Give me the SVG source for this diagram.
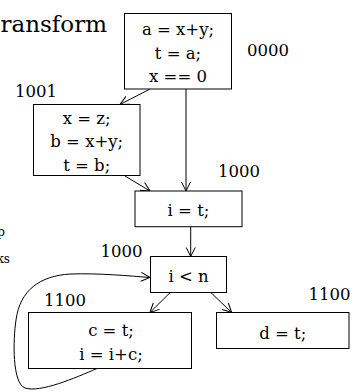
<svg xmlns="http://www.w3.org/2000/svg" width="356" height="392" viewBox="0 0 356 392">
<defs>
<marker id="ah" markerUnits="userSpaceOnUse" markerWidth="12" markerHeight="12" viewBox="-10 -6 12 12" refX="0" refY="0" orient="auto">
<path d="M-9,-4.5 L0,0 L-9,4.5" fill="none" stroke="#000" stroke-width="1"/>
</marker>
<style>
text{font-family:"DejaVu Serif",serif;font-size:16.5px;fill:#000}
.c{text-anchor:middle}
.box{fill:#fff;stroke:#000;stroke-width:1}
.edge{fill:none;stroke:#000;stroke-width:1;marker-end:url(#ah)}
.frag{font-size:12px;text-anchor:end}
</style>
</defs>
<rect width="356" height="392" fill="#fff"/>
<text x="0.5" y="32" style="font-size:23px">ransform</text>
<text class="frag" x="5" y="236">p</text>
<text class="frag" x="10" y="263">ks</text>
<g id="connectors">
<path class="edge" d="M150,89 L120,104.5"/>
<path class="edge" d="M186,89 L186,191"/>
<path class="edge" d="M125,176 L150,191"/>
<path class="edge" d="M190.7,226.7 L190.7,256.5"/>
<path class="edge" d="M170,292.7 L150,312.5"/>
<path class="edge" d="M211,292.7 L231.7,312.5"/>
<path class="edge" d="M97,368.5 C75,378 40,393 25,388 C12,383 13,340 16,320 C20,290 40,276 70,274 C100,273 130,276 150,277.5"/>
</g>
<g id="n0000">
<rect class="box" x="124.5" y="13.5" width="107" height="75.5"/>
<text class="c" x="178" y="34.5">a = x+y;</text>
<text class="c" x="178" y="58.5">t = a;</text>
<text class="c" x="178" y="82">x == 0</text>
<text x="247" y="56">0000</text>
</g>
<g id="n1001">
<rect class="box" x="33.5" y="104.5" width="106.5" height="71"/>
<text class="c" x="86.7" y="123.5">x = z;</text>
<text class="c" x="86.7" y="147">b = x+y;</text>
<text class="c" x="86.7" y="170.5">t = b;</text>
<text x="15" y="96.5">1001</text>
</g>
<g id="n_it">
<rect class="box" x="135" y="191" width="107" height="35.7"/>
<text class="c" x="188.5" y="216">i = t;</text>
<text x="218" y="177">1000</text>
</g>
<g id="n_cond">
<rect class="box" x="150.5" y="256.5" width="76" height="36"/>
<text class="c" x="188.5" y="281.5">i &lt; n</text>
<text x="100.5" y="256.5">1000</text>
</g>
<g id="n_body">
<rect class="box" x="28.5" y="312.5" width="163" height="56"/>
<text class="c" x="111" y="336">c = t;</text>
<text class="c" x="111" y="359.5">i = i+c;</text>
<text x="44" y="305.5">1100</text>
</g>
<g id="n_exit">
<rect class="box" x="216.5" y="312.5" width="132.5" height="36"/>
<text class="c" x="282.7" y="339">d = t;</text>
<text x="308.5" y="300">1100</text>
</g>
</svg>
